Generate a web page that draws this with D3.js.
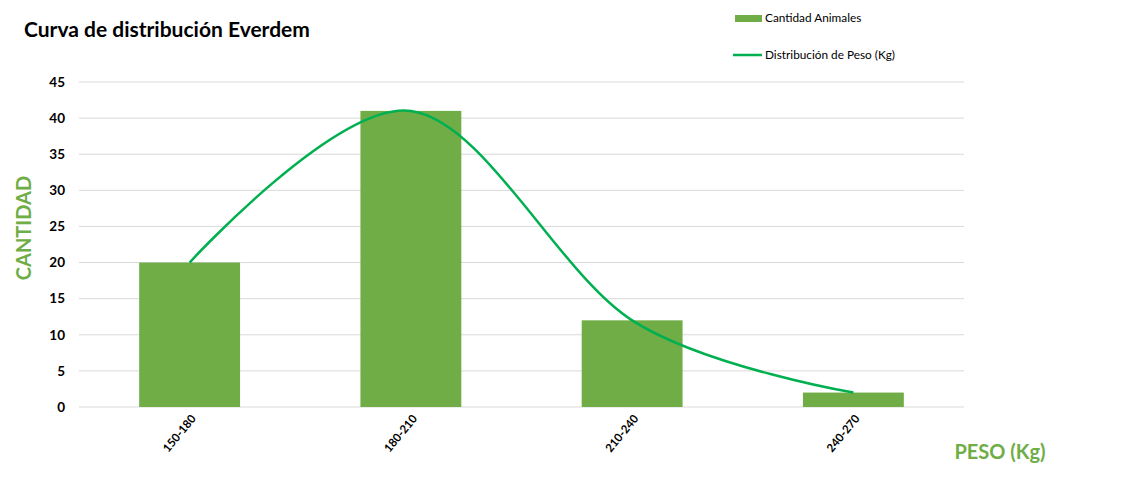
<!DOCTYPE html>
<html>
<head>
<meta charset="utf-8">
<script src="https://cdn.jsdelivr.net/npm/d3@7"></script>
<style>
  body { margin: 0; background: #fff; }
  text { font-family: Lato, "Open Sans", sans-serif; }
</style>
</head>
<body>
<svg id="chart" width="1124" height="501"></svg>
<script>
var categories = ["150-180", "180-210", "210-240", "240-270"];
var cantidad = [20, 41, 12, 2];
var distribucion = [20, 41, 12, 2];
var yTicks = [0, 5, 10, 15, 20, 25, 30, 35, 40, 45];

var svg = d3.select("#chart");
var plotLeft = 79, plotRight = 964, plotTop = 82, plotBottom = 407;

var xScale = d3.scaleBand().domain(categories).range([plotLeft, plotRight]).paddingInner(0.544).paddingOuter(0.272);
var yScale = d3.scaleLinear().domain([0, 45]).range([plotBottom, plotTop]);

// gridlines
svg.append("g")
    .selectAll("line")
    .data(yTicks)
    .enter().append("line")
    .attr("x1", plotLeft)
    .attr("x2", plotRight)
    .attr("y1", d => yScale(d))
    .attr("y2", d => yScale(d))
    .attr("stroke", "#d9d9d9")
    .attr("stroke-width", 1);

// y axis labels
svg.append("g")
    .attr("transform", "translate(" + plotLeft + ",0)")
    .call(d3.axisLeft(yScale).tickValues(yTicks).tickSize(0).tickPadding(14))
    .call(g => g.select(".domain").remove())
    .selectAll("text")
    .style("font-size", "13.5px")
    .style("font-weight", "bold")
    .style("fill", "#000");

// bars
svg.selectAll(".bar")
    .data(cantidad)
    .enter().append("rect")
    .attr("class", "bar")
    .attr("x", (d, i) => xScale(categories[i]))
    .attr("y", d => yScale(d))
    .attr("width", xScale.bandwidth())
    .attr("height", d => plotBottom - yScale(d))
    .attr("fill", "#70ad47");

// smoothed line
var line = d3.line()
    .x((d, i) => xScale(categories[i]) + xScale.bandwidth() / 2)
    .y(d => yScale(d))
    .curve(d3.curveCardinal.tension(0));

svg.append("path")
    .datum(distribucion)
    .attr("d", line)
    .attr("fill", "none")
    .attr("stroke", "#00b050")
    .attr("stroke-width", 2.5);

// x axis labels
svg.append("g")
    .attr("transform", "translate(0," + plotBottom + ")")
    .call(d3.axisBottom(xScale).tickSize(0).tickPadding(0))
    .call(g => g.select(".domain").remove())
    .selectAll("text")
    .style("font-size", "11.5px")
    .style("font-weight", "bold")
    .style("fill", "#000")
    .style("text-anchor", "end")
    .attr("dx", "0")
    .attr("dy", "0")
    .attr("transform", "translate(7,12) rotate(-50)");

// title
svg.append("text")
    .attr("x", 24)
    .attr("y", 37)
    .style("font-size", "21px")
    .style("font-weight", "bold")
    .text("Curva de distribución Everdem");

// axis titles
svg.append("text")
    .attr("transform", "translate(31,228) rotate(-90)")
    .attr("text-anchor", "middle")
    .style("font-size", "20px")
    .style("font-weight", "bold")
    .style("fill", "#70ad47")
    .text("CANTIDAD");

svg.append("text")
    .attr("x", 1000)
    .attr("y", 459)
    .attr("text-anchor", "middle")
    .style("font-size", "20px")
    .style("font-weight", "bold")
    .style("fill", "#70ad47")
    .text("PESO (Kg)");

// legend
var legend = svg.append("g");
legend.append("rect")
    .attr("x", 735).attr("y", 15)
    .attr("width", 27).attr("height", 7)
    .attr("fill", "#70ad47");
legend.append("text")
    .attr("x", 765).attr("y", 22)
    .style("font-size", "11.8px")
    .style("fill", "#000")
    .text("Cantidad Animales");
legend.append("line")
    .attr("x1", 733).attr("x2", 762)
    .attr("y1", 55).attr("y2", 55)
    .attr("stroke", "#00b050")
    .attr("stroke-width", 2.5);
legend.append("text")
    .attr("x", 765).attr("y", 59)
    .style("font-size", "11.8px")
    .style("fill", "#000")
    .text("Distribución de Peso (Kg)");
</script>
</body>
</html>
